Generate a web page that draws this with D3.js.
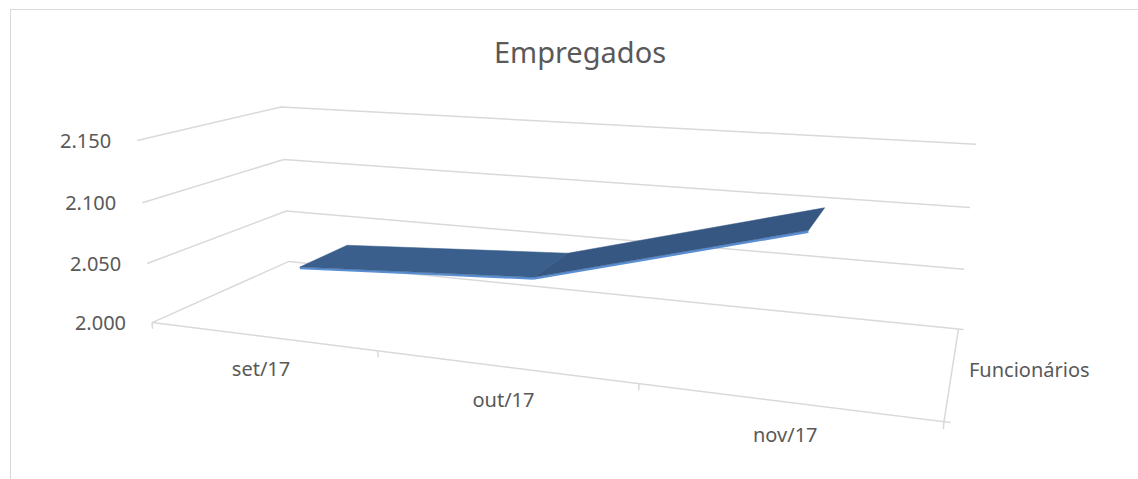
<!DOCTYPE html>
<html><head><meta charset="utf-8">
<script src="https://cdn.jsdelivr.net/npm/d3@7"></script>
<style>
body { margin: 0; background: #fff; }
text { font-family: "Noto Sans", "Open Sans", sans-serif; fill: #595959; }
</style>
</head><body><div id="chart"></div>
<script>
var title = "Empregados";
var seriesName = "Funcionários";
var categories = ["set/17", "out/17", "nov/17"];
var values = [2041, 2052, 2106];
var yTicks = [2000, 2050, 2100, 2150];

var svgWidth = 1138;
var svgHeight = 479;

// camera matrix of the 3D view (world: x = category band 0..3, y = value 0..1, z = depth 0 front .. 1 back)
var cam = [0.2003974, -0.02013603, 0.1909127, 0.1520450,
           0.004619031, -0.1875029, -0.01228820, 0.3226106,
           -0.06735727, -0.03838269, 0.1871702];

function project(X, Y, Z) {
  var w = cam[8] * X + cam[9] * Y + cam[10] * Z + 1;
  return [1000 * (cam[0] * X + cam[1] * Y + cam[2] * Z + cam[3]) / w,
          1000 * (cam[4] * X + cam[5] * Y + cam[6] * Z + cam[7]) / w];
}

var x = d3.scaleBand().domain(categories).range([0, 3]);
var y = d3.scaleLinear().domain([2000, 2150]).range([0, 1]);
var z = d3.scaleLinear().domain([0, 1]).range([0, 1]);

var ribbonFront = 0.295, ribbonBack = 0.675, ribbonThick = 0.013;

var svg = d3.select("#chart")
  .append("svg")
  .attr("width", svgWidth)
  .attr("height", svgHeight);

// chart border
svg.append("rect")
  .attr("x", 10.5).attr("y", 9.5)
  .attr("width", 1140).attr("height", 480)
  .attr("fill", "none")
  .attr("stroke", "#d9d9d9");

svg.append("text")
  .attr("x", 580).attr("y", 63)
  .attr("text-anchor", "middle")
  .style("font-size", "29px")
  .text(title);

var line = d3.line();
var grid = "#d9d9d9";

// gridlines on side wall and back wall
yTicks.forEach(function(t) {
  svg.append("path")
    .attr("d", line([project(0, y(t), z(0)), project(0, y(t), z(1)), project(3, y(t), z(1))]))
    .attr("fill", "none").attr("stroke", grid).attr("stroke-width", 1.5);

  var p = project(0, y(t), z(0));
  svg.append("text")
    .attr("x", p[0] - 26).attr("y", p[1])
    .attr("dy", "0.36em")
    .attr("text-anchor", "end")
    .style("font-size", "20px")
    .text(d3.format(",.3f")(t / 1000).replace(",", ""));
});

// floor edges (category axis and depth axis)
svg.append("path")
  .attr("d", line([project(0, 0, z(0)), project(3, 0, z(0)), project(3, 0, z(1))]))
  .attr("fill", "none").attr("stroke", grid).attr("stroke-width", 1.5);

// category ticks
d3.range(0, 4).forEach(function(i) {
  svg.append("path")
    .attr("d", line([project(i, 0, 0), project(i, -0.035, 0)]))
    .attr("stroke", grid).attr("stroke-width", 1.5);
});
// depth ticks
[0, 1].forEach(function(d) {
  svg.append("path")
    .attr("d", line([project(3, 0, z(d)), project(3.02, 0, z(d))]))
    .attr("stroke", grid).attr("stroke-width", 1.5);
});

categories.forEach(function(c) {
  var p = project(x(c) + x.bandwidth() / 2, 0, 0);
  svg.append("text")
    .attr("x", p[0]).attr("y", p[1] + 40)
    .attr("text-anchor", "middle")
    .style("font-size", "20px")
    .text(c);
});

var sp = project(3, 0, z(0.5));
svg.append("text")
  .attr("x", sp[0] + 17).attr("y", sp[1] + 6)
  .style("font-size", "20px")
  .text(seriesName);

// 3D ribbon of the line series
var topColors = ["#3b5f8c", "#365782"];
for (var i = 0; i < values.length - 1; i++) {
  var x0 = x(categories[i]) + x.bandwidth() / 2;
  var x1 = x(categories[i + 1]) + x.bandwidth() / 2;
  var y0 = y(values[i]), y1 = y(values[i + 1]);

  svg.append("path")
    .attr("d", line([project(x0, y0, ribbonFront), project(x1, y1, ribbonFront),
                     project(x1, y1 - ribbonThick, ribbonFront), project(x0, y0 - ribbonThick, ribbonFront)]) + "Z")
    .attr("fill", "#5b8fd4");

  svg.append("path")
    .attr("d", line([project(x0, y0, ribbonFront), project(x1, y1, ribbonFront),
                     project(x1, y1, ribbonBack), project(x0, y0, ribbonBack)]) + "Z")
    .attr("fill", topColors[i])
    .attr("stroke", topColors[i]).attr("stroke-width", 0.5);
}
</script></body></html>
